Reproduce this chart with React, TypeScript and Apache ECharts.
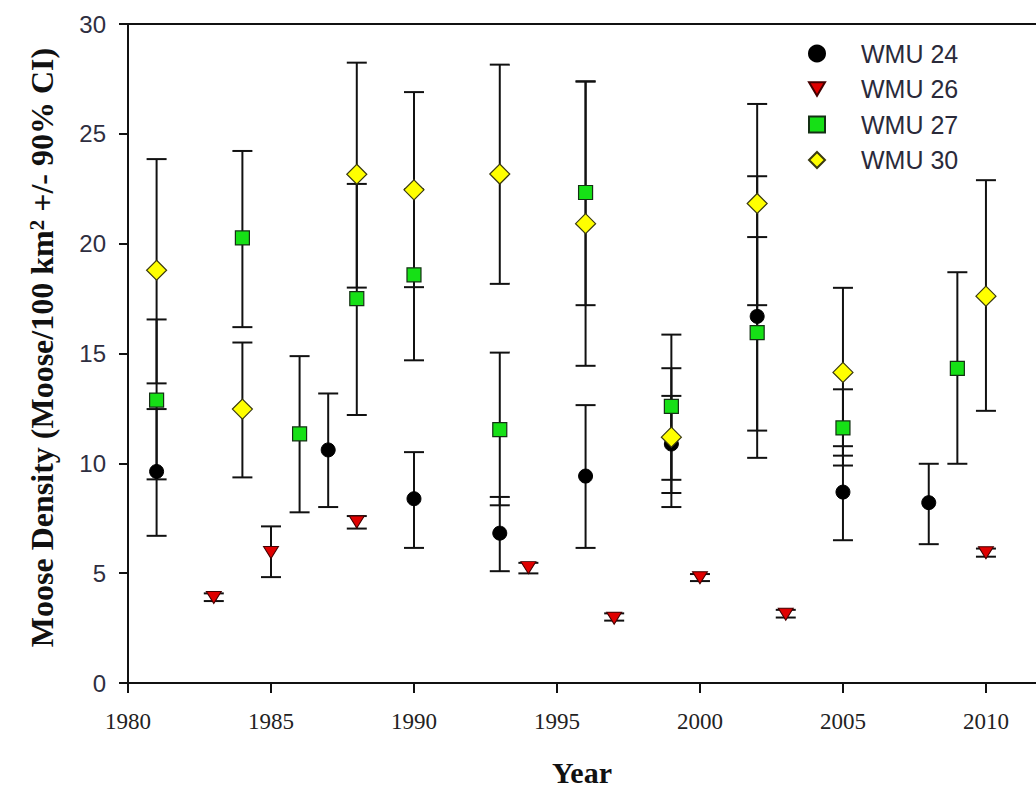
import React, { useEffect, useRef } from "react";
import * as echarts from "echarts";

// ---- Data ----
const wmu24Years = [1981, 1987, 1990, 1993, 1996, 1999, 2002, 2005, 2008];
const wmu24Density = [9.63, 10.61, 8.39, 6.82, 9.42, 10.88, 16.69, 8.69, 8.21];
const wmu24Lower = [6.7, 8.01, 6.15, 5.09, 6.15, 8.65, 10.25, 6.5, 6.32];
const wmu24Upper = [12.47, 13.18, 10.51, 8.47, 12.65, 13.07, 23.07, 10.78, 9.98];

const wmu26Years = [1983, 1985, 1988, 1994, 1997, 2000, 2003, 2010];
const wmu26Density = [3.89, 5.94, 7.33, 5.25, 2.95, 4.79, 3.13, 5.93];
const wmu26Lower = [3.73, 4.82, 7.03, 4.99, 2.84, 4.64, 2.98, 5.75];
const wmu26Upper = [4.08, 7.13, 7.6, 5.47, 3.17, 4.96, 3.33, 6.12];

const wmu27Years = [1981, 1984, 1986, 1988, 1990, 1993, 1996, 1999, 2002, 2005, 2009];
const wmu27Density = [12.88, 20.26, 11.34, 17.5, 18.58, 11.53, 22.33, 12.59, 15.95, 11.61, 14.32];
const wmu27Lower = [9.27, 16.2, 7.77, 12.2, 14.69, 8.09, 17.2, 9.25, 11.49, 9.9, 9.98];
const wmu27Upper = [16.55, 24.22, 14.88, 22.72, 22.47, 15.04, 27.39, 15.86, 20.3, 13.37, 18.7];

const wmu30Years = [1981, 1984, 1988, 1990, 1993, 1996, 1999, 2002, 2005, 2010];
const wmu30Density = [18.79, 12.47, 23.16, 22.45, 23.17, 20.91, 11.19, 21.83, 14.14, 17.61];
const wmu30Lower = [13.64, 9.36, 18.0, 18.02, 18.17, 14.44, 8.01, 17.2, 10.35, 12.39];
const wmu30Upper = [23.85, 15.5, 28.24, 26.9, 28.15, 27.38, 14.33, 26.36, 17.99, 22.89];

const seriesNames = ["WMU 24", "WMU 26", "WMU 27", "WMU 30"];
const xMin = 1980;
const xMax = 2011.75;
const yMin = 0;
const yMax = 30;

const pts = (years: number[], vals: number[]) => years.map((y, i) => [y, vals[i]]);
const bars = (years: number[], lo: number[], hi: number[]) =>
  years.map((y, i) => [y, lo[i], hi[i]]);

const SERIF = "'Liberation Serif', 'Times New Roman', serif";
const SANS = "'Liberation Sans', Arial, sans-serif";

function errorBarSeries(name: string, data: number[][]) {
  return {
    type: "custom",
    name: name + " CI",
    data,
    z: 1,
    silent: true,
    encode: { x: 0, y: [1, 2] },
    renderItem: (_params: any, api: any) => {
      const x = api.value(0);
      const lo = api.coord([x, api.value(1)]);
      const hi = api.coord([x, api.value(2)]);
      const hw = 10;
      const st = { stroke: "#111", lineWidth: 2 };
      return {
        type: "group",
        children: [
          { type: "line", shape: { x1: lo[0], y1: lo[1], x2: hi[0], y2: hi[1] }, style: st },
          { type: "line", shape: { x1: lo[0] - hw, y1: lo[1], x2: lo[0] + hw, y2: lo[1] }, style: st },
          { type: "line", shape: { x1: hi[0] - hw, y1: hi[1], x2: hi[0] + hw, y2: hi[1] }, style: st },
        ],
      };
    },
  };
}

const triDown = "path://M0,0 L10,0 L5,8.5 Z";

export default function App() {
  const ref = useRef<HTMLDivElement>(null);
  useEffect(() => {
    if (!ref.current) return;
    const chart = echarts.init(ref.current, undefined, { renderer: "svg" });
    const axisLineStyle = { color: "#111", width: 2 };
    chart.setOption({
      animation: false,
      backgroundColor: "#ffffff",
      grid: { left: 128, right: 0, top: 24, bottom: 107, containLabel: false },
      legend: {
        orient: "vertical",
        left: 808,
        top: 41,
        padding: 0,
        itemWidth: 16,
        itemHeight: 16,
        itemGap: 10.5,
        textStyle: { fontFamily: SANS, fontSize: 25, color: "#2a2a3a", lineHeight: 24, padding: [0, 0, 0, 31] },
        data: [
          { name: seriesNames[0], icon: "circle" },
          { name: seriesNames[1], icon: triDown },
          { name: seriesNames[2], icon: "rect" },
          { name: seriesNames[3], icon: "diamond" },
        ],
      },
      xAxis: [
        {
          type: "value",
          min: xMin,
          max: xMax,
          interval: 5,
          position: "bottom",
          name: "Year",
          nameLocation: "middle",
          nameGap: 74,
          nameTextStyle: { fontFamily: SERIF, fontSize: 30, fontWeight: "bold", color: "#111" },
          axisLine: { show: true, lineStyle: axisLineStyle },
          axisTick: { show: true, inside: false, length: 10, lineStyle: axisLineStyle },
          axisLabel: {
            fontFamily: SERIF,
            fontSize: 23,
            color: "#222",
            margin: 27,
            showMaxLabel: false,
            formatter: (v: number) => String(v),
          },
          splitLine: { show: false },
        },
        {
          type: "value",
          min: xMin,
          max: xMax,
          position: "top",
          axisLine: { show: true, lineStyle: axisLineStyle },
          axisTick: { show: false },
          axisLabel: { show: false },
          splitLine: { show: false },
        },
      ],
      yAxis: {
        type: "value",
        min: yMin,
        max: yMax,
        interval: 5,
        name: "Moose Density (Moose/100 km{sup|2} +/- 90% CI)",
        nameLocation: "middle",
        nameGap: 70,
        nameTextStyle: {
          fontFamily: SERIF,
          fontSize: 32,
          fontWeight: "bold",
          color: "#111",
          padding: [0, 0, 0, 12],
          rich: {
            sup: { fontFamily: SERIF, fontSize: 21, fontWeight: "bold", color: "#111", verticalAlign: "top" },
          },
        },
        axisLine: { show: true, lineStyle: axisLineStyle },
        axisTick: { show: true, inside: false, length: 9, lineStyle: axisLineStyle },
        axisLabel: { fontFamily: SANS, fontSize: 24, color: "#2e2e40", margin: 22 },
        splitLine: { show: false },
      },
      series: [
        errorBarSeries(seriesNames[0], bars(wmu24Years, wmu24Lower, wmu24Upper)),
        errorBarSeries(seriesNames[1], bars(wmu26Years, wmu26Lower, wmu26Upper)),
        errorBarSeries(seriesNames[2], bars(wmu27Years, wmu27Lower, wmu27Upper)),
        errorBarSeries(seriesNames[3], bars(wmu30Years, wmu30Lower, wmu30Upper)),
        {
          type: "scatter",
          name: seriesNames[0],
          data: pts(wmu24Years, wmu24Density),
          symbol: "circle",
          symbolSize: 14,
          z: 3,
          itemStyle: { color: "#000000", borderColor: "#000", borderWidth: 1, opacity: 1 },
        },
        {
          type: "scatter",
          name: seriesNames[1],
          data: pts(wmu26Years, wmu26Density),
          symbol: "triangle",
          symbolRotate: 180,
          symbolSize: [15, 12],
          z: 4,
          itemStyle: { color: "#e00000", borderColor: "#400", borderWidth: 1, opacity: 1 },
        },
        {
          type: "scatter",
          name: seriesNames[2],
          data: pts(wmu27Years, wmu27Density),
          symbol: "rect",
          symbolSize: 14,
          z: 5,
          itemStyle: { color: "#16e016", borderColor: "#143014", borderWidth: 1.2, opacity: 1 },
        },
        {
          type: "scatter",
          name: seriesNames[3],
          data: pts(wmu30Years, wmu30Density),
          symbol: "diamond",
          symbolSize: 20,
          z: 6,
          itemStyle: { color: "#ffff00", borderColor: "#3a3a10", borderWidth: 1.2, opacity: 1 },
        },
      ],
    });
    return () => chart.dispose();
  }, []);
  return (
    <div
      ref={ref}
      style={{ position: "fixed", left: 0, top: 0, width: 1036, height: 792, background: "#fff" }}
    />
  );
}
